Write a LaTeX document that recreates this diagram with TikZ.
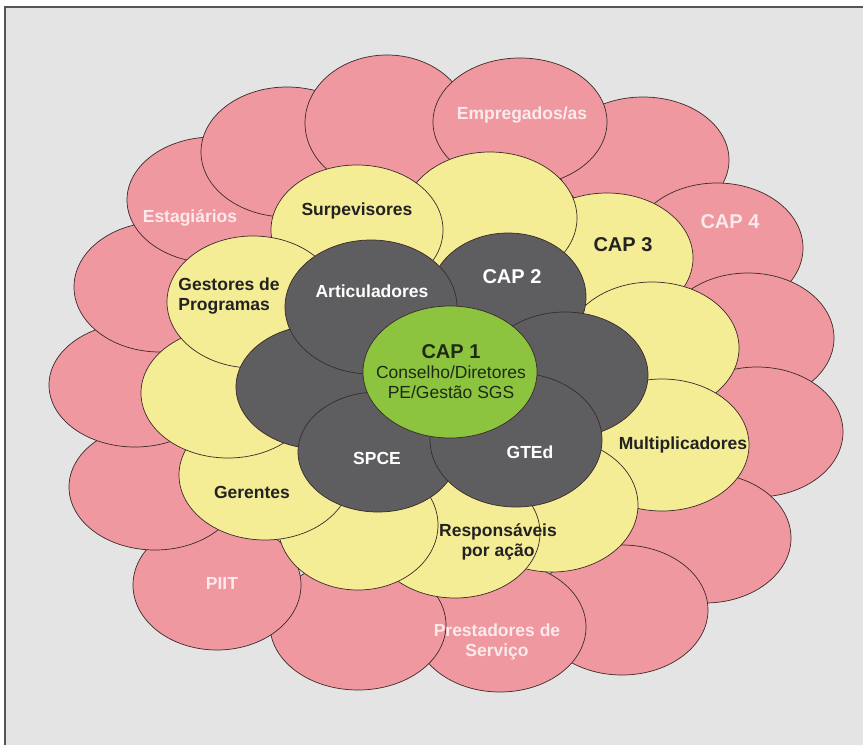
\documentclass[tikz,border=0pt]{standalone}
\usepackage{fontspec}
\setmainfont{Liberation Sans}
\usetikzlibrary{shapes.geometric}
\definecolor{bggray}{HTML}{E4E4E4}
\definecolor{petalpink}{HTML}{F0989F}
\definecolor{petalyellow}{HTML}{F5EC96}
\definecolor{petalgray}{HTML}{5E5E60}
\definecolor{coregreen}{HTML}{8CC43F}
\definecolor{edgecol}{HTML}{3A2A2A}
\definecolor{pinktext}{HTML}{FBEAEC}
\definecolor{darktext}{HTML}{222222}
\definecolor{greentext}{HTML}{1E2A14}
\definecolor{framecol}{HTML}{555555}
\begin{document}
\begin{tikzpicture}[x=1pt,y=-1pt,
  petal/.style={shape=ellipse,draw=edgecol,line width=.7pt,inner sep=0pt,minimum width=172pt,minimum height=130pt},
  pinkpetal/.style={petal,fill=petalpink},
  yellowpetal/.style={petal,fill=petalyellow},
  graypetal/.style={petal,fill=petalgray},
  lbl/.style={font=\bfseries\fontsize{17.5}{20}\selectfont,inner sep=0pt,align=center},
  caplbl/.style={font=\bfseries\fontsize{20}{24}\selectfont,inner sep=0pt}]
\useasboundingbox (0,0) rectangle (863,745);
\fill[white] (0,0) rectangle (863,745);
\fill[bggray] (5,7) rectangle (863,745);
\draw[framecol,line width=1.5pt] (5,745) -- (5,7) -- (863,7);
% outer ring
\node(pa) at (643,160)[pinkpetal,minimum height=126pt]{};
\node(cap4) at (717,248)[pinkpetal]{};
\node(pb) at (748,338)[pinkpetal]{};
\node(pc) at (757,432)[pinkpetal]{};
\node(pd) at (705,538)[pinkpetal]{};
\node(pe) at (622,610)[pinkpetal]{};
\node(prest) at (500,627)[pinkpetal]{};
\node(pf) at (358,625)[pinkpetal,minimum width=176pt]{};
\node(piit) at (217,585)[pinkpetal,minimum width=168pt]{};
\node(pg) at (155,487)[pinkpetal,minimum height=126pt]{};
\node(ph) at (135,385)[pinkpetal,minimum height=124pt]{};
\node(pi) at (160,287)[pinkpetal]{};
\node(est) at (213,200)[pinkpetal,minimum height=126pt]{};
\node(pj) at (287,152)[pinkpetal]{};
\node(pk) at (387,123)[pinkpetal,minimum width=164pt,minimum height=136pt]{};
\node(emp) at (520,122)[pinkpetal,minimum width=174pt,minimum height=128pt]{};
% middle ring
\node(cap3) at (607,258)[yellowpetal]{};
\node(ytop) at (490,218)[yellowpetal,minimum width=174pt,minimum height=132pt]{};
\node(surp) at (357,230)[yellowpetal]{};
\node(yright) at (652,348)[yellowpetal,minimum width=174pt,minimum height=132pt]{};
\node(multi) at (662,445)[yellowpetal,minimum width=174pt,minimum height=132pt]{};
\node(ybr) at (552,505)[yellowpetal,minimum height=134pt]{};
\node(resp) at (455,533)[yellowpetal,minimum width=170pt]{};
\node(ybot) at (358,525)[yellowpetal,minimum width=160pt]{};
\node(ger) at (265,475)[yellowpetal]{};
\node(yleft) at (228,393)[yellowpetal,minimum width=174pt]{};
\node(gest) at (253,302)[yellowpetal,minimum height=132pt]{};
% inner ring
\node(gleft) at (320,387)[graypetal,minimum width=168pt,minimum height=124pt]{};
\node(cap2) at (508,297)[graypetal,minimum width=156pt,minimum height=128pt]{};
\node(artic) at (371,307)[graypetal,minimum height=134pt]{};
\node(gright) at (565,375)[graypetal,minimum width=166pt,minimum height=126pt]{};
\node(spce) at (378,452)[graypetal,minimum width=160pt,minimum height=120pt]{};
\node(gted) at (516,440)[graypetal,minimum height=134pt]{};
% core
\node(core) at (450,372)[petal,fill=coregreen,minimum width=174pt,minimum height=132pt]{};
% labels
\node(lemp) at (522,115)[lbl,text=pinktext]{Empregados/as};
\node(lest) at (190,218)[lbl,text=pinktext]{Estagiários};
\node(lcap4) at (730,222)[caplbl,text=pinktext]{CAP 4};
\node(lpiit) at (222,583)[lbl,text=pinktext]{PIIT};
\node(lprest) at (497,642)[lbl,text=pinktext]{Prestadores de\\Serviço};
\node(lsurp) at (357,211)[lbl,text=darktext]{Surpevisores};
\node(lcap3) at (623,245)[caplbl,text=darktext]{CAP 3};
\node(lmulti) at (683,445)[lbl,text=darktext]{Multiplicadores};
\node(lresp) at (498,542)[lbl,text=darktext]{Responsáveis\\por ação};
\node(lger) at (252,492)[lbl,text=darktext]{Gerentes};
\node(lgest) at (229,296)[lbl,text=darktext,align=left]{Gestores de\\Programas};
\node(lartic) at (372,291)[lbl,text=white]{Articuladores};
\node(lcap2) at (512,277)[caplbl,text=white]{CAP 2};
\node(lspce) at (377,458)[lbl,text=white]{SPCE};
\node(lgted) at (530,452)[lbl,text=white]{GTEd};
\node(lcore) at (451,372)[inner sep=0pt,align=center,text=greentext,font=\fontsize{17.5}{20}\selectfont]{{\bfseries\fontsize{20}{20}\selectfont CAP 1}\\Conselho/Diretores\\PE/Gestão SGS};
\end{tikzpicture}
\end{document}
